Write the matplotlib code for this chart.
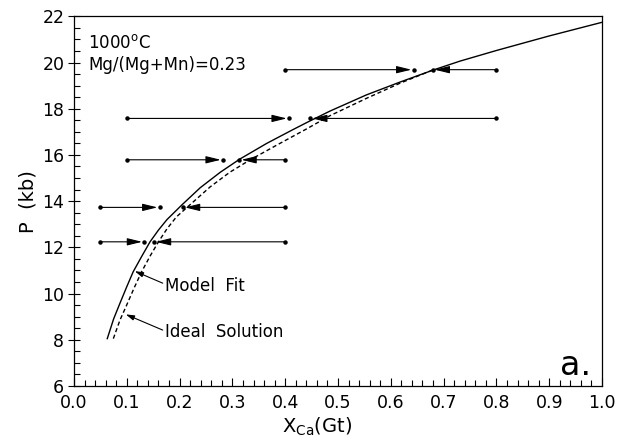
import matplotlib
matplotlib.use("Agg")
import matplotlib.pyplot as plt
from matplotlib.ticker import MultipleLocator

# model fit curve (solid)
fit_x = [0.063, 0.075, 0.087, 0.100, 0.112, 0.128, 0.144, 0.160, 0.176, 0.204,
         0.239, 0.277, 0.314, 0.365, 0.415, 0.445, 0.485, 0.554, 0.617, 0.681,
         0.731, 0.800, 0.900, 1.000]
fit_p = [8.05, 8.9, 9.58, 10.3, 10.94, 11.6, 12.24, 12.75, 13.2, 13.83,
         14.58, 15.25, 15.82, 16.5, 17.1, 17.45, 17.9, 18.6, 19.15, 19.68,
         20.06, 20.52, 21.15, 21.74]

# ideal solution curve (dashed)
ideal_x = [0.0745, 0.087, 0.0997, 0.114, 0.128, 0.144, 0.160, 0.176, 0.194,
           0.220, 0.258, 0.295, 0.333, 0.390, 0.440, 0.485, 0.554, 0.617, 0.680]
ideal_p = [8.05, 8.85, 9.5, 10.25, 10.94, 11.62, 12.24, 12.8, 13.32,
           13.85, 14.62, 15.25, 15.78, 16.5, 17.12, 17.7, 18.45, 19.1, 19.68]

# reversal experiments: pressure, and start/end of each bracket arrow
exp_p = [19.69, 17.58, 15.79, 13.73, 12.24]
up_start = [0.40, 0.10, 0.10, 0.05, 0.05]
up_end = [0.643, 0.407, 0.282, 0.162, 0.133]
down_start = [0.80, 0.80, 0.40, 0.40, 0.40]
down_end = [0.679, 0.447, 0.313, 0.206, 0.151]

fig = plt.figure(figsize=(6.25, 4.37), dpi=100)
ax = fig.add_axes([0.1184, 0.1167, 0.8448, 0.846])

ax.plot(fit_x, fit_p, color="black", lw=1.0)
ax.plot(ideal_x, ideal_p, color="black", lw=1.0, ls=(0, (3, 2)))

for p, xs, xe in list(zip(exp_p, up_start, up_end)) + list(zip(exp_p, down_start, down_end)):
    ax.annotate("", xy=(xe, p), xytext=(xs, p),
                arrowprops=dict(arrowstyle="-|>,head_length=0.9,head_width=0.22",
                                color="black", lw=0.8, shrinkA=0, shrinkB=1.5))
    ax.plot([xs, xe], [p, p], ls="none", marker="o", ms=2.2, color="black")

# curve labels
ax.annotate("", xy=(0.115, 10.97), xytext=(0.168, 10.45),
            arrowprops=dict(arrowstyle="-|>,head_length=0.5,head_width=0.15",
                            color="black", lw=0.8, shrinkA=0, shrinkB=0))
ax.text(0.172, 10.1, "Model  Fit", fontsize=12)
ax.annotate("", xy=(0.098, 9.1), xytext=(0.168, 8.42),
            arrowprops=dict(arrowstyle="-|>,head_length=0.5,head_width=0.15",
                            color="black", lw=0.8, shrinkA=0, shrinkB=0))
ax.text(0.172, 8.1, "Ideal  Solution", fontsize=12)

ax.text(0.027, 0.915, "1000$^{\\mathrm{o}}$C", transform=ax.transAxes, fontsize=12)
ax.text(0.027, 0.855, "Mg/(Mg+Mn)=0.23", transform=ax.transAxes, fontsize=12)
ax.text(0.92, 0.03, "a.", transform=ax.transAxes, fontsize=24)

ax.set_xlim(0, 1.0)
ax.set_ylim(6, 22)
ax.xaxis.set_major_locator(MultipleLocator(0.1))
ax.xaxis.set_minor_locator(MultipleLocator(0.02))
ax.yaxis.set_major_locator(MultipleLocator(2))
ax.yaxis.set_minor_locator(MultipleLocator(0.5))
ax.xaxis.set_major_formatter(plt.FuncFormatter(lambda v, _: f"{v:.1f}"))
ax.tick_params(which="major", direction="inout", length=8, width=0.8, labelsize=12.5, pad=3)
ax.tick_params(which="minor", direction="in", length=4, width=0.8)
ax.tick_params(axis="x", which="major", direction="in", length=6, pad=6)
for s in ax.spines.values():
    s.set_linewidth(0.9)

ax.set_xlabel("X$_{\\mathrm{Ca}}$(Gt)", fontsize=14, labelpad=0)
ax.xaxis.set_label_coords(0.46, -0.08)
ax.set_ylabel("P  (kb)", fontsize=14, labelpad=3)

fig.savefig("out.png", dpi=100)
